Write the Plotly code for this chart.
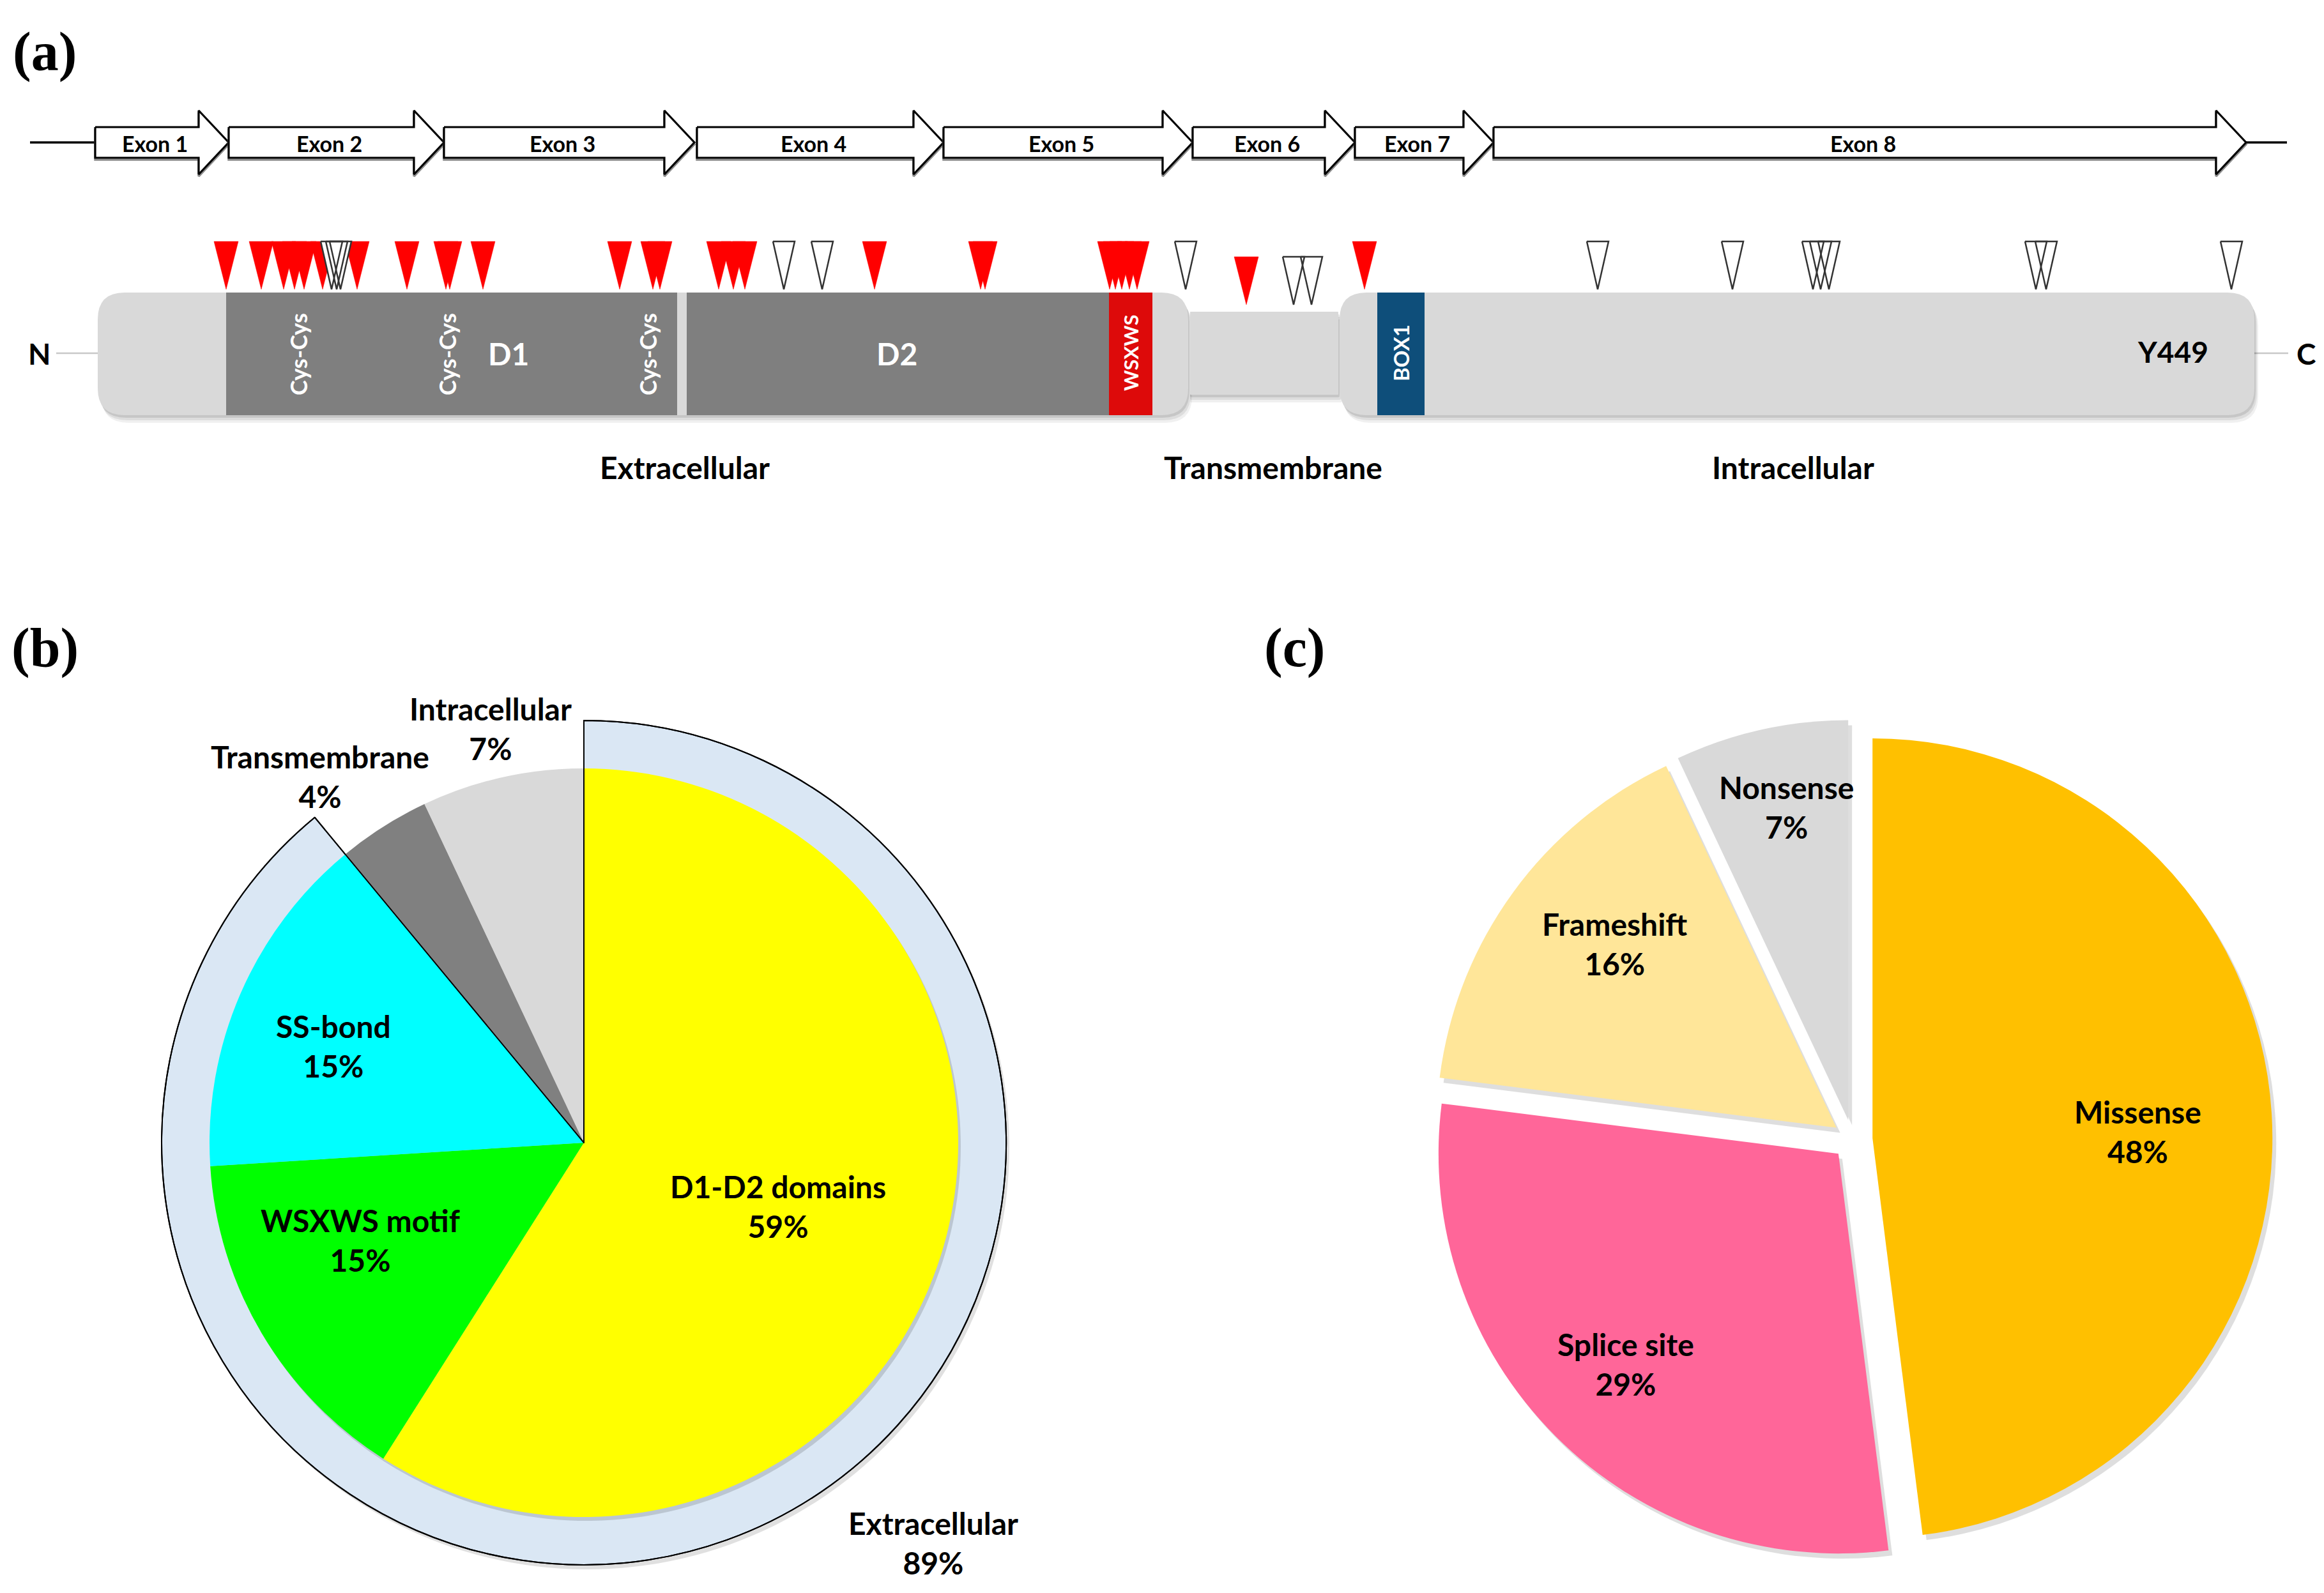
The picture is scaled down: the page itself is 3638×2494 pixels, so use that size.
import plotly.graph_objects as go

W, H = 3638, 2494

# ---------------- panel (a) data (diagram position units) ----------------
exon_labels = ["Exon 1", "Exon 2", "Exon 3", "Exon 4", "Exon 5", "Exon 6", "Exon 7", "Exon 8"]
exon_start = [149, 358, 695, 1091, 1477, 1867, 2121, 2338]
exon_end = [358, 695, 1087, 1477, 1867, 2121, 2338, 3516]

region_labels = ["Extracellular", "Transmembrane", "Intracellular"]
region_start = [153, 1863, 2097]
region_end = [1860, 2095, 3529]

domain_labels = ["D1", "D2", "WSXWS", "BOX1"]
domain_start = [354, 1075, 1736, 2156]
domain_end = [1060, 1736, 1804, 2230]

cys_labels = ["Cys-Cys", "Cys-Cys", "Cys-Cys"]
cys_pos = [467, 700, 1014]

# mutation positions (red filled / open triangles)
mut_red = [354, 409, 444, 461, 476, 505, 559, 637, 698, 704, 756, 970, 1022, 1033,
           1125, 1148, 1166, 1369, 1535, 1542, 1737, 1746, 1756, 1768, 1780, 2136]
mut_red_tm = [1951]
mut_open = [519, 527, 533, 1227, 1287, 1856, 2501, 2712, 2838, 2850, 2863, 3187, 3203, 3493]
mut_open_tm = [2025, 2053]

# ---------------- panel (b) data ----------------
b_labels = ["D1-D2 domains", "WSXWS motif", "SS-bond", "Transmembrane", "Intracellular"]
b_values = [59, 15, 15, 4, 7]
ring_labels = ["Extracellular", "Other"]
ring_values = [89, 11]

# ---------------- panel (c) data ----------------
c_labels = ["Missense", "Splice site", "Frameshift", "Nonsense"]
c_values = [48, 29, 16, 7]

# ---------------- styles ----------------
FONT = "Lato"
b_colors = ["#FFFF00", "#00FF00", "#00FFFF", "#808080", "#D9D9D9"]
c_colors = ["#FFC000", "#FF6699", "#FFE699", "#D9D9D9"]
ring_color = "#DAE7F4"
domain_colors = ["#7F7F7F", "#7F7F7F", "#DD0A0A", "#0E4E7A"]
light = "#D9D9D9"

fig = go.Figure()

# exon arrows
Y_MID, BOX_H, HEAD_H, HEAD_L = 223, 24, 50, 47
def arrow(s, e, dy=0):
    h = e - HEAD_L
    xs = [s, h, h, e, h, h, s, s]
    ys = [Y_MID - BOX_H, Y_MID - BOX_H, Y_MID - HEAD_H, Y_MID, Y_MID + HEAD_H,
          Y_MID + BOX_H, Y_MID + BOX_H, Y_MID - BOX_H]
    return xs, [y + dy for y in ys]

# intron lines
fig.add_trace(go.Scatter(x=[47, exon_start[0], None, exon_end[-1], 3580],
                         y=[Y_MID, Y_MID, None, Y_MID, Y_MID], mode="lines",
                         line=dict(color="black", width=3.5), hoverinfo="skip"))
for s, e in zip(exon_start, exon_end):
    xs, ys = arrow(s, e, 3)
    fig.add_trace(go.Scatter(x=xs, y=ys, mode="lines", line=dict(color="#8C8C8C", width=3.5),
                             hoverinfo="skip"))
    xs, ys = arrow(s, e)
    fig.add_trace(go.Scatter(x=xs, y=ys, mode="lines", fill="toself", fillcolor="white",
                             line=dict(color="black", width=3.2), hoverinfo="skip"))

# protein shapes
def rrect(x0, y0, x1, y1, r):
    return (f"M {x0+r},{y0} L {x1-r},{y0} Q {x1},{y0} {x1},{y0+r} L {x1},{y1-r} "
            f"Q {x1},{y1} {x1-r},{y1} L {x0+r},{y1} Q {x0},{y1} {x0},{y1-r} "
            f"L {x0},{y0+r} Q {x0},{y0} {x0+r},{y0} Z")

shapes = []
P_TOP, P_BOT, TM_TOP, TM_BOT, RAD = 458, 650, 488, 618, 42
# N / C tails
shapes.append(dict(type="line", xref="x", yref="y", x0=88, x1=region_start[0], y0=553, y1=553,
                   line=dict(color="#C8C8C8", width=2.5), layer="below"))
shapes.append(dict(type="line", xref="x", yref="y", x0=region_end[2], x1=3582, y0=553, y1=553,
                   line=dict(color="#C8C8C8", width=2.5), layer="below"))
# soft shadows
for off, a in [(12, 0.06), (8, 0.08), (4, 0.10)]:
    for i, (s, e) in enumerate(zip(region_start, region_end)):
        if i == 1:
            p = rrect(s, TM_TOP + off, e + off * 0.5, TM_BOT + off, 2)
        else:
            p = rrect(s + off * 0.5, P_TOP + off, e + off * 0.5, P_BOT + off, RAD)
        shapes.append(dict(type="path", xref="x", yref="y", path=p,
                           fillcolor=f"rgba(0,0,0,{a})", line=dict(width=0), layer="below"))
for i, (s, e) in enumerate(zip(region_start, region_end)):
    if i == 1:
        p = rrect(s, TM_TOP, e, TM_BOT, 1)
    else:
        p = rrect(s, P_TOP, e, P_BOT, RAD)
    shapes.append(dict(type="path", xref="x", yref="y", path=p, fillcolor=light,
                       line=dict(width=0), layer="below"))
for s, e, c in zip(domain_start, domain_end, domain_colors):
    shapes.append(dict(type="rect", xref="x", yref="y", x0=s, x1=e, y0=P_TOP, y1=P_BOT,
                       fillcolor=c, line=dict(width=0), layer="below"))

# mutation triangles
T_TOP, T_TIP, TM_T_TOP, TM_T_TIP = 378, 453, 402, 477
def tris(pos, w, top, tip):
    xs, ys = [], []
    for p in pos:
        xs += [p - w / 2, p + w / 2, p, p - w / 2, None]
        ys += [top, top, tip, top, None]
    return xs, ys

xr, yr = tris(mut_red, 38, T_TOP, T_TIP)
xr2, yr2 = tris(mut_red_tm, 38, TM_T_TOP, TM_T_TIP)
fig.add_trace(go.Scatter(x=xr + xr2, y=yr + yr2, mode="lines", fill="toself",
                         fillcolor="#FF0000", line=dict(color="#FF0000", width=0.5),
                         hoverinfo="skip"))
xo, yo = tris(mut_open, 34, T_TOP, T_TIP)
xo2, yo2 = tris(mut_open_tm, 34, TM_T_TOP, TM_T_TIP)
fig.add_trace(go.Scatter(x=xo + xo2, y=yo + yo2, mode="lines", fill="toself",
                         fillcolor="white", line=dict(color="#333333", width=2.5),
                         hoverinfo="skip"))

# ---------------- pies ----------------
def dom(cx, cy, half):
    return dict(x=[(cx - half) / W, (cx + half) / W], y=[1 - (cy + half) / H, 1 - (cy - half) / H])

BX, BY, BR, RR = 914, 1789, 586, 661
common = dict(sort=False, direction="clockwise", rotation=0, textinfo="none",
              hoverinfo="skip", showlegend=False)
# ring shadow
fig.add_trace(go.Pie(labels=ring_labels, values=ring_values, domain=dom(BX + 5, BY + 7, RR),
                     marker=dict(colors=["rgba(0,0,0,0.12)", "rgba(0,0,0,0)"], line=dict(width=0)),
                     **common))
fig.add_trace(go.Pie(labels=ring_labels, values=ring_values, domain=dom(BX, BY, RR),
                     marker=dict(colors=[ring_color, "rgba(0,0,0,0)"],
                                 line=dict(color=["#000000", "rgba(0,0,0,0)"], width=[2, 0])),
                     **common))
fig.add_trace(go.Pie(labels=b_labels, values=b_values, domain=dom(BX + 4, BY + 6, BR),
                     marker=dict(colors=["rgba(0,0,0,0.14)"] * 5, line=dict(width=0)), **common))
fig.add_trace(go.Pie(labels=b_labels, values=b_values, domain=dom(BX, BY, BR),
                     marker=dict(colors=b_colors, line=dict(width=0)), **common))
fig.add_trace(go.Pie(labels=ring_labels, values=ring_values, domain=dom(BX, BY, RR),
                     marker=dict(colors=["rgba(0,0,0,0)", "rgba(0,0,0,0)"],
                                 line=dict(color=["#000000", "rgba(0,0,0,0)"], width=[2, 0])),
                     **common))

CX, CY, CR, PULL = 2900, 1784, 626, 0.05
half_c = CR * (1 + PULL)
fig.add_trace(go.Pie(labels=c_labels, values=c_values, domain=dom(CX + 6, CY + 8, half_c),
                     pull=[PULL] * 4,
                     marker=dict(colors=["rgba(0,0,0,0.13)"] * 4, line=dict(width=0)), **common))
fig.add_trace(go.Pie(labels=c_labels, values=c_values, domain=dom(CX, CY, half_c),
                     pull=[PULL] * 4, marker=dict(colors=c_colors, line=dict(width=0)), **common))

# ---------------- annotations ----------------
ann = []
def txt(x, y, t, size, color="black", bold=True, angle=0, family=FONT):
    s = f"<b>{t}</b>" if bold else t
    ann.append(dict(x=x, y=y, xref="x", yref="y", text=s, showarrow=False, textangle=angle,
                    font=dict(family=family, size=size, color=color),
                    xanchor="center", yanchor="middle"))

for lab, s, e in zip(exon_labels, exon_start, exon_end):
    txt((s + e - HEAD_L * 0.45) / 2, Y_MID + 1, lab, 34)
for lab, x in zip(cys_labels, cys_pos):
    txt(x, 555, lab, 36, "white", angle=-90)
txt(796, 553, domain_labels[0], 48, "white")
txt(1404, 553, domain_labels[1], 48, "white")
txt((domain_start[2] + domain_end[2]) / 2, 553, domain_labels[2], 31, "white", angle=-90)
txt((domain_start[3] + domain_end[3]) / 2, 553, domain_labels[3], 33, "white", angle=-90)
txt(3401, 550, "Y449", 46)
txt(61, 553, "N", 46)
txt(3610, 553, "C", 46)
for lab, x in zip(region_labels, [1072, 1993, 2807]):
    txt(x, 731, lab, 48)

b_pos = [(1218, 1888), (564, 1941), (522, 1637), (501, 1215), (768, 1140)]
for lab, v, (x, y) in zip(b_labels, b_values, b_pos):
    txt(x, y, f"{lab}<br>{v}%", 48)
txt(1461, 2415, f"{ring_labels[0]}<br>{ring_values[0]}%", 48)

c_pos = [(3346, 1771), (2545, 2135), (2527, 1477), (2796, 1263)]
for lab, v, (x, y) in zip(c_labels, c_values, c_pos):
    txt(x, y, f"{lab}<br>{v}%", 48)

for t, x, y in [("(a)", 70, 81), ("(b)", 70, 1014), ("(c)", 2026, 1014)]:
    txt(x, y, t, 86, family="Liberation Serif")

fig.update_layout(
    width=W, height=H, autosize=False,
    margin=dict(l=0, r=0, t=0, b=0, pad=0),
    paper_bgcolor="white", plot_bgcolor="white",
    showlegend=False, shapes=shapes, annotations=ann,
    xaxis=dict(range=[0, W], visible=False, domain=[0, 1], fixedrange=True),
    yaxis=dict(range=[H, 0], visible=False, domain=[0, 1], fixedrange=True),
)

fig.write_html("out.html", config={"displayModeBar": False},
               post_script="document.body.style.margin='0px';document.body.style.padding='0px';")
